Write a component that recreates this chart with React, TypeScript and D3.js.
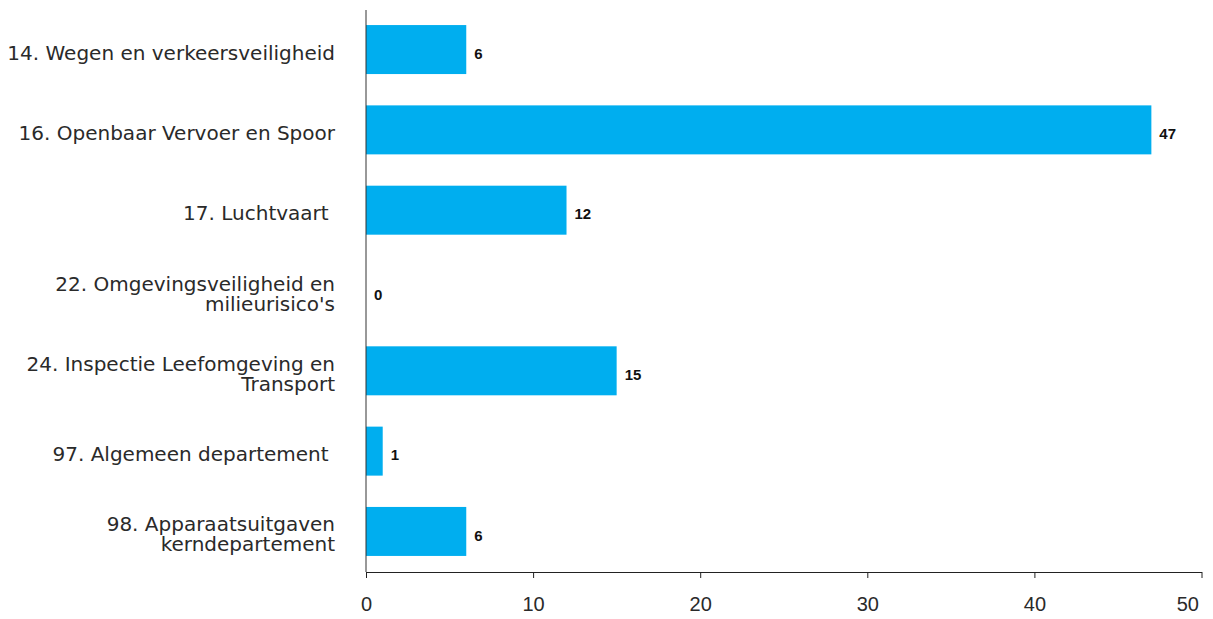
import React, { useEffect, useRef } from "react";
import * as d3 from "d3";

const categories: string[][] = [
  ["14. Wegen en verkeersveiligheid"],
  ["16. Openbaar Vervoer en Spoor"],
  ["17. Luchtvaart "],
  ["22. Omgevingsveiligheid en", "milieurisico's"],
  ["24. Inspectie Leefomgeving en", "Transport"],
  ["97. Algemeen departement "],
  ["98. Apparaatsuitgaven", "kerndepartement"],
];
const values: number[] = [6, 47, 12, 0, 15, 1, 6];
const xTicks: number[] = [0, 10, 20, 30, 40, 50];

const W = 1213;
const H = 619;
const margin = { left: 366, right: 12, top: 9, bottom: 47 };
const FONT = "'DejaVu Sans', Arial, sans-serif";
const VFONT = "'Liberation Sans', Arial, sans-serif";

export default function App() {
  const ref = useRef<SVGSVGElement>(null);
  useEffect(() => {
    const svg = d3.select(ref.current);
    svg.selectAll("*").remove();
    const x = d3.scaleLinear().domain([0, 50]).range([margin.left, 1201.5]);
    const y = d3
      .scaleBand<number>()
      .domain(d3.range(categories.length))
      .range([margin.top, 572])
      .paddingInner(0.39)
      .paddingOuter(0.2);

    svg
      .selectAll("rect.bar")
      .data(values)
      .join("rect")
      .attr("class", "bar")
      .attr("x", x(0))
      .attr("y", (_, i) => y(i)!)
      .attr("width", (d) => x(d) - x(0))
      .attr("height", y.bandwidth())
      .attr("fill", "#00AEEF");

    svg
      .selectAll("text.val")
      .data(values)
      .join("text")
      .attr("class", "val")
      .attr("x", (d) => x(d) + 8)
      .attr("y", (_, i) => y(i)! + y.bandwidth() / 2 + 4)
      .attr("dy", "0.35em")
      .attr("font-family", VFONT)
      .attr("font-size", 15)
      .attr("font-weight", "bold")
      .attr("fill", "#111")
      .text((d) => String(d));

    // category labels
    const lh = 20;
    categories.forEach((lines, i) => {
      const cy = y(i)! + y.bandwidth() / 2 + 3;
      const t = svg
        .append("text")
        .attr("font-family", FONT)
        .attr("font-size", 20)
        .attr("fill", "#2a2a2a")
        .attr("text-anchor", "end")
        .style("white-space", "pre");
      lines.forEach((ln, k) => {
        t.append("tspan")
          .attr("x", 335)
          .attr("y", cy + (k - (lines.length - 1) / 2) * lh)
          .attr("dy", "0.35em")
          .text(ln);
      });
    });

    // y axis line
    svg
      .append("line")
      .attr("x1", x(0))
      .attr("x2", x(0))
      .attr("y1", 10)
      .attr("y2", 572)
      .attr("stroke", "#333")
      .attr("stroke-width", 1);

    const xAxis = d3.axisBottom(x).tickValues(xTicks).tickSize(6).tickSizeOuter(0);
    const g = svg
      .append("g")
      .attr("transform", "translate(0,572)")
      .call(xAxis);
    g.select(".domain").attr("stroke", "#222");
    g.selectAll(".tick line").attr("stroke", "#222");
    g.selectAll<SVGTextElement, number>(".tick text")
      .attr("font-family", VFONT)
      .attr("font-size", 20)
      .attr("fill", "#2a2a2a")
      .attr("y", 25)
      .attr("text-anchor", (d) => (d === 50 ? "end" : "middle"))
      .attr("x", (d) => (d === 50 ? -3 : 0));
  }, []);
  return (
    <svg
      ref={ref}
      width={W}
      height={H}
      style={{ position: "absolute", left: 0, top: 0, background: "#fff" }}
    />
  );
}
